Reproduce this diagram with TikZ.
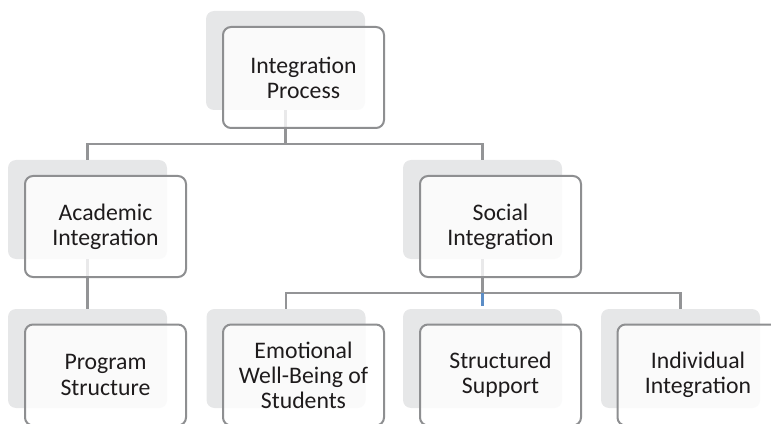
\documentclass[tikz,border=0pt]{standalone}
\usepackage{fontspec}
\setmainfont{Carlito}
\definecolor{shadowgray}{HTML}{E6E7E8}
\definecolor{bordergray}{HTML}{8E8F91}
\definecolor{linegray}{HTML}{939496}
\definecolor{textdark}{HTML}{1E1B1C}
\definecolor{selblue}{HTML}{5B8DC6}
\tikzset{
  shadowbox/.style={rectangle, rounded corners=6pt, fill=shadowgray, minimum width=119.25pt, minimum height=74.25pt, inner sep=0pt},
  frontbox/.style={rectangle, rounded corners=6pt, draw=bordergray, line width=1.5pt, fill=white, fill opacity=0.8, text opacity=1, minimum width=120.75pt, minimum height=75.75pt, inner sep=0pt, align=center, text=textdark, font=\fontsize{17.8}{18.8}\selectfont},
  conn/.style={draw=linegray, line width=1.8pt},
}
\begin{document}
\begin{tikzpicture}[x=0.75pt,y=-0.75pt]
\useasboundingbox (0,0) rectangle (771,424);
\clip (0,0) rectangle (771,424);
% shadows
\node[shadowbox] (s-top) at (285.5,60.5) {};
\node[shadowbox] (s-acad) at (87.5,209.5) {};
\node[shadowbox] (s-soc) at (482.5,209.5) {};
\node[shadowbox] (s-prog) at (87.5,358.5) {};
\node[shadowbox] (s-emo) at (286,358.5) {};
\node[shadowbox] (s-str) at (482.5,358.5) {};
\node[shadowbox] (s-ind) at (680.5,358.5) {};
% connectors
\coordinate (j1) at (285.5,144);
\coordinate (j2) at (482.5,293);
\draw[conn] (s-top.south) -- (j1);
\draw[conn] (s-acad.north) |- (j1) -| (s-soc.north);
\draw[conn] (s-acad.south) -- (s-prog.north);
\draw[conn] (s-soc.south) -- (j2);
\draw[conn] (s-emo.north) |- (j2) -| (s-ind.north);
\draw[conn, draw=selblue] (j2) -- ([yshift=2.25pt]s-str.north);
% front boxes
\node[frontbox] (top) at (303.5,77.5) {Integration\\Process};
\node[frontbox] (acad) at (105.5,226.5) {Academic\\Integration};
\node[frontbox] (soc) at (500.5,226.5) {Social\\Integration};
\node[frontbox] (prog) at (105.5,375) {Program\\Structure};
\node[frontbox] (emo) at (303.5,375) {Emotional\\Well-Being of\\Students};
\node[frontbox] (str) at (500.5,375) {Structured\\Support};
\node[frontbox] (ind) at (698,375) {Individual\\Integration};
\end{tikzpicture}
\end{document}
